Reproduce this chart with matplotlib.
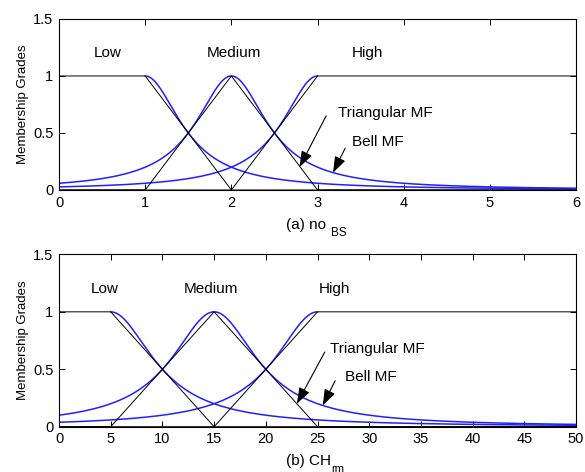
import numpy as np
import matplotlib.pyplot as plt

plt.rcParams['font.family'] = ['Liberation Sans', 'DejaVu Sans']

# panel (a): number of base stations
a_xlim = [0, 6]
a_xticks = [0, 1, 2, 3, 4, 5, 6]
a_centers = [1, 2, 3]
a_halfwidth = 0.5
a_tri_low = ([0, 1, 2, 6], [1, 1, 0, 0])
a_tri_med = ([0, 1, 2, 3, 6], [0, 0, 1, 0, 0])
a_tri_high = ([0, 2, 3, 6], [0, 0, 1, 1])
a_label_x = [0.56, 2.03, 3.58]

# panel (b): channel count
b_xlim = [0, 50]
b_xticks = [0, 5, 10, 15, 20, 25, 30, 35, 40, 45, 50]
b_centers = [5, 15, 25]
b_halfwidth = 5
b_tri_low = ([0, 5, 15, 50], [1, 1, 0, 0])
b_tri_med = ([0, 5, 15, 25, 50], [0, 0, 1, 0, 0])
b_tri_high = ([0, 15, 25, 50], [0, 0, 1, 1])
b_label_x = [4.4, 14.7, 26.6]

set_names = ['Low', 'Medium', 'High']
yticks = [0, 0.5, 1, 1.5]
ytick_labels = ['0', '0.5', '1', '1.5']

W, H = 585, 472


def bell(x, c, a, b=1.0):
    return 1.0 / (1.0 + np.abs((x - c) / a) ** (2 * b))


def arrow(ax, tip, tail):
    ax.annotate('', xy=tip, xytext=tail,
                arrowprops=dict(arrowstyle='-|>,head_length=0.7,head_width=0.25',
                                color='black', lw=0.8, mutation_scale=14,
                                shrinkA=0, shrinkB=0))


def draw_panel(ax, xlim, xticks, centers, hw, tris, label_x,
               tri_txt, tri_tip, bell_txt, bell_tip):
    x = np.linspace(xlim[0], xlim[1], 1200)
    # shoulders sit under the black flat segments, so only the bell parts show
    low = np.where(x < centers[0], np.nan, bell(x, centers[0], hw))
    med = bell(x, centers[1], hw)
    high = np.where(x > centers[2], np.nan, bell(x, centers[2], hw))
    for y in (low, med, high):
        ax.plot(x, y, color='#2020ff', lw=1.1)
    for tx, ty in tris:
        ax.plot(tx, ty, color='black', lw=0.7)

    for name, lx in zip(set_names, label_x):
        ax.text(lx, 1.2, name, ha='center', va='center', fontsize=11)

    ax.text(tri_txt[0], tri_txt[1], 'Triangular MF', fontsize=11,
            va='center', ha='left')
    arrow(ax, tri_tip[0], tri_tip[1])
    ax.text(bell_txt[0], bell_txt[1], 'Bell MF', fontsize=11,
            va='center', ha='left')
    arrow(ax, bell_tip[0], bell_tip[1])

    ax.set_xlim(xlim)
    ax.set_ylim(0, 1.5)
    ax.set_xticks(xticks)
    ax.set_yticks(yticks)
    ax.set_yticklabels(ytick_labels)
    ax.tick_params(direction='in', top=True, right=True, labelsize=10.5,
                   length=4, width=0.7, pad=4)
    for s in ax.spines.values():
        s.set_linewidth(0.8)
    ax.set_ylabel('Membership Grades', fontsize=9.5, labelpad=3)


fig = plt.figure(figsize=(5.85, 4.72), dpi=100)
ax1 = fig.add_axes([0.1009, 0.5975, 0.8838, 0.3623])
ax2 = fig.add_axes([0.1009, 0.096, 0.8838, 0.365])

draw_panel(ax1, a_xlim, a_xticks, a_centers, a_halfwidth,
           [a_tri_low, a_tri_med, a_tri_high], a_label_x,
           (3.24, 0.675), [(2.79, 0.2), (3.10, 0.65)],
           (3.40, 0.42), [(3.18, 0.152), (3.32, 0.366)])

draw_panel(ax2, b_xlim, b_xticks, b_centers, b_halfwidth,
           [b_tri_low, b_tri_med, b_tri_high], b_label_x,
           (26.2, 0.68), [(23.0, 0.2), (25.7, 0.65)],
           (27.7, 0.43), [(25.5, 0.185), (26.7, 0.40)])

# axis captions with a dropped subscript
fig.text(286 / W, 1 - 225 / H, '(a) no', fontsize=11, va='center', ha='left')
fig.text(331 / W, 1 - 232.5 / H, 'BS', fontsize=8.5, va='center', ha='left')
fig.text(286 / W, 1 - 461 / H, '(b) CH', fontsize=11, va='center', ha='left')
fig.text(331 / W, 1 - 468.5 / H, 'rm', fontsize=8, va='center', ha='left')

fig.savefig('out.png', dpi=100)
